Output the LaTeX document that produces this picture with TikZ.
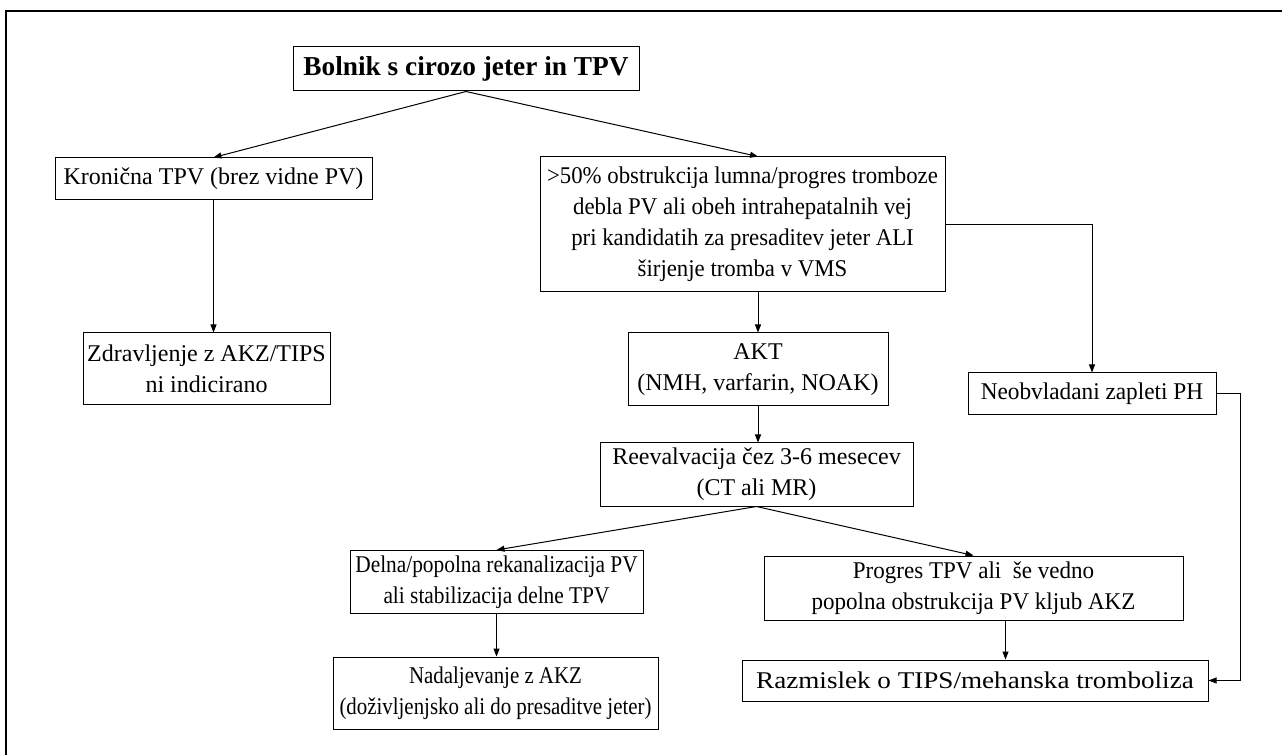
\documentclass[tikz,border=0pt]{standalone}
\usepackage{fontspec}
\setmainfont{Liberation Serif}
\usetikzlibrary{positioning, arrows.meta}

\begin{document}
\begin{tikzpicture}[x=0.75pt, y=-0.75pt,
    okvir/.style={draw, line width=0.75pt, inner sep=0pt, align=center,
      font=\fontsize{18}{23.25}\selectfont},
    raztegnjen/.style={font=\fontsize{18}{23.25}\selectfont\addfontfeatures{FakeStretch=#1}},
    puscica/.style={line width=0.75pt, -{Triangle[length=6pt, width=4.5pt]}}]
            \useasboundingbox (0,0) rectangle (1282,755);
            \draw [line width=1pt] (6,755) -- (6,11) -- (1282,11);

            \node [okvir, minimum width=259.5pt, minimum height=33pt,
              font=\fontsize{20.5}{24}\selectfont\bfseries] (bolnik) at (466,69) {Bolnik s cirozo jeter in TPV};
            \node [okvir, minimum width=237.75pt, minimum height=31.5pt] (kronicna) at (213.5,179) {Kronična TPV (brez vidne PV)};
            \node [okvir, raztegnjen=0.95, minimum width=303.75pt, minimum height=101.25pt] (obstrukcija) at (742.5,224.5)
              {>50\% obstrukcija lumna/progres tromboze\\debla PV ali obeh intrahepatalnih vej\\pri kandidatih za presaditev jeter ALI\\širjenje tromba v VMS};
            \node [okvir, minimum width=185.25pt, minimum height=54pt] (zdravljenje) at (206.5,369) {Zdravljenje z AKZ/TIPS\\ni indicirano};
            \node [okvir, minimum width=195pt, minimum height=54.75pt] (akt) at (758,369.5) {AKT\\(NMH, varfarin, NOAK)};
            \node [okvir, raztegnjen=0.97, minimum width=186pt, minimum height=31.5pt] (neobvladani) at (1092,394) {Neobvladani zapleti PH};
            \node [okvir, minimum width=234.75pt, minimum height=47.25pt] (reevalvacija) at (756.5,474.5) {Reevalvacija čez 3-6 mesecev\\(CT ali MR)};
            \node [okvir, raztegnjen=0.89, minimum width=219.75pt, minimum height=47.25pt] (delna) at (496.5,582) {Delna/popolna rekanalizacija PV\\ali stabilizacija delne TPV};
            \node [okvir, raztegnjen=0.96, minimum width=314.25pt, minimum height=48pt] (progres) at (973.5,588) {Progres TPV ali \ še vedno\\popolna obstrukcija PV kljub AKZ};
            \node [okvir, raztegnjen=0.87, minimum width=243.75pt, minimum height=54pt] (nadaljevanje) at (495.5,693) {Nadaljevanje z AKZ\\(doživljenjsko ali do presaditve jeter)};
            \node [okvir, raztegnjen=1.13, minimum width=349.5pt, minimum height=30.75pt] (razmislek) at (975,680.5) {Razmislek o TIPS/mehanska tromboliza};

            \draw [puscica] (bolnik.south) -- (kronicna.north);
            \draw [puscica] (bolnik.south) -- (obstrukcija.north -| akt.north);
            \draw [puscica] (kronicna.south) -- (kronicna.south |- zdravljenje.north);
            \draw [puscica] (obstrukcija.south -| akt.north) -- (akt.north);
            \draw [puscica] (obstrukcija.east) -| (neobvladani.north);
            \draw [puscica] (akt.south) -- (akt.south |- reevalvacija.north);
            \draw [puscica] (reevalvacija.south) -- (delna.north);
            \draw [puscica] (reevalvacija.south) -- (progres.north);
            \draw [puscica] (delna.south) -- (delna.south |- nadaljevanje.north);
            \draw [puscica] ([xshift=24pt]progres.south) -- ([xshift=24pt]progres.south |- razmislek.north);

            % desna povezava
            \draw [puscica] (neobvladani.east) -- ++(24,0) |- (razmislek.east);
\end{tikzpicture}
\end{document}
